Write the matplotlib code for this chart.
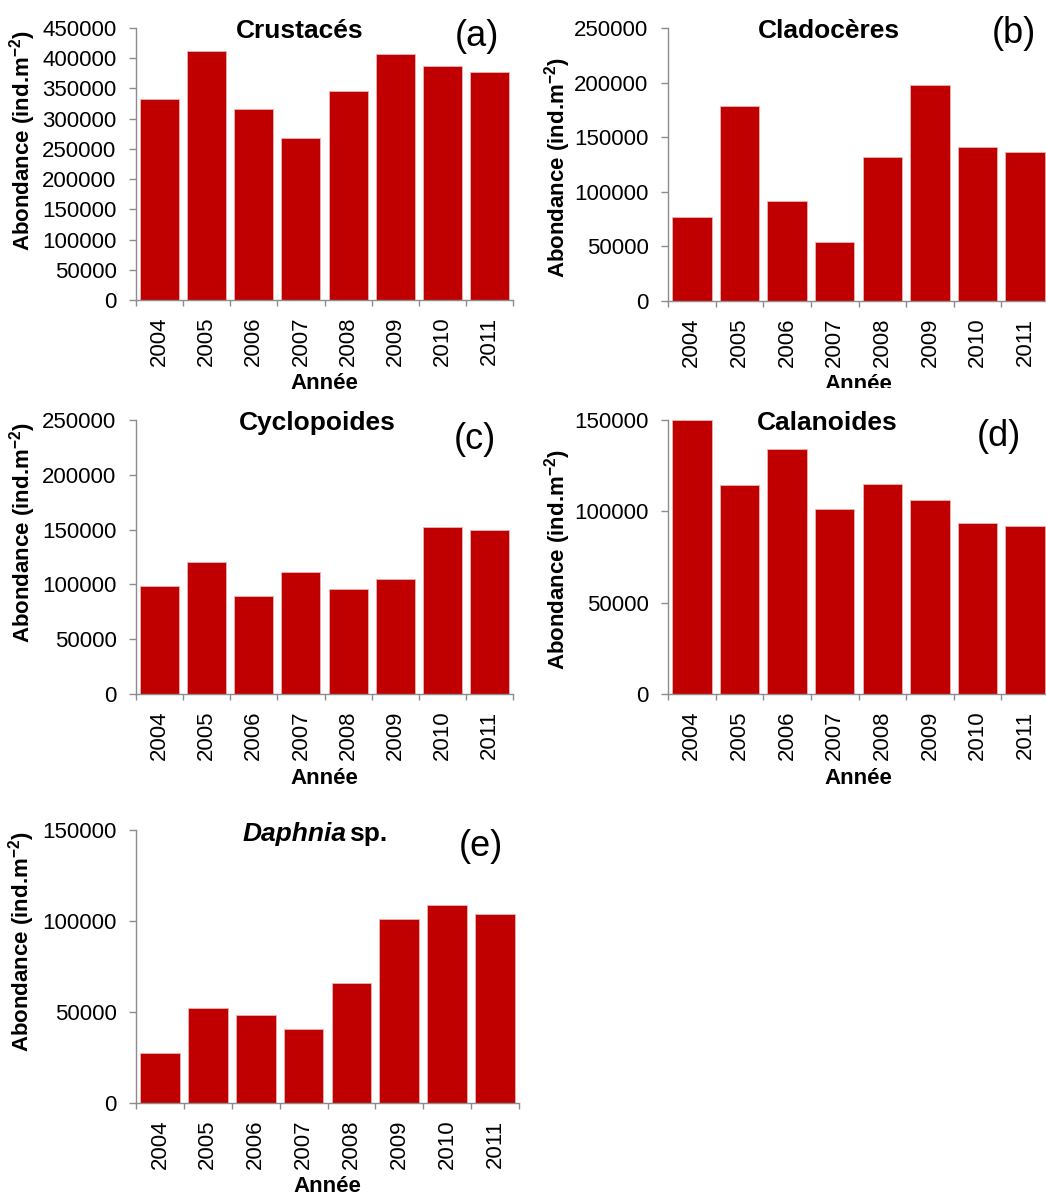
import matplotlib
matplotlib.use('Agg')
import matplotlib.pyplot as plt
from matplotlib.patches import Rectangle
import numpy as np

# Data
years = ['2004', '2005', '2006', '2007', '2008', '2009', '2010', '2011']
crustaces = [332000, 412000, 315500, 267600, 345800, 407500, 386600, 377700]
cladoceres = [77300, 178200, 91400, 54100, 132300, 197400, 141200, 136000]
cyclopoides = [98400, 120300, 89600, 111200, 96000, 104800, 152200, 149800]
calanoides = [150000, 114300, 134300, 101300, 115200, 106100, 93700, 92200]
daphnia = [27700, 52300, 48400, 40700, 66000, 101200, 108900, 103600]

plt.rcParams['font.family'] = ['Liberation Sans', 'DejaVu Sans']
plt.rcParams['mathtext.fontset'] = 'custom'
plt.rcParams['mathtext.rm'] = 'Liberation Sans'
plt.rcParams['mathtext.bf'] = 'Liberation Sans:bold'

BAR = '#C00000'
EDGE = '#E8B4B4'
GREY = '#8C8C8C'
W, H = 1046, 1196

fig = plt.figure(figsize=(W / 100, H / 100), dpi=100)


def px_axes(left, top, right, bottom):
    return fig.add_axes([left / W, 1 - bottom / H, (right - left) / W, (bottom - top) / H])


# values, ymax, title, title x, tag, tag pos, ylabel pos, axes box in pixels
panels = [
    (crustaces, 450000, 'Crustacés', 0.435, '(a)', (0.904, 0.97), (-0.30, 0.588), (136, 28, 513, 300)),
    (cladoceres, 250000, 'Cladocères', 0.423, '(b)', (0.908, 0.98), (-0.289, 0.49), (668, 28, 1049, 301)),
    (cyclopoides, 250000, 'Cyclopoides', 0.48, '(c)', (0.90, 0.93), (-0.302, 0.588), (136, 420, 513, 694)),
    (calanoides, 150000, 'Calanoides', 0.417, '(d)', (0.869, 0.94), (-0.289, 0.49), (668, 420, 1049, 694)),
    (daphnia, 150000, None, None, '(e)', (0.90, 0.94), (-0.298, 0.59), (136, 830, 519, 1103)),
]

x = np.arange(len(years))
for vals, ymax, title, tx, tag, tagpos, ylpos, box in panels:
    ax = px_axes(*box)
    ax.bar(x, vals, width=0.83, color=BAR, edgecolor=EDGE, linewidth=0.6)
    ax.set_xlim(-0.5, len(years) - 0.5)
    ax.set_ylim(0, ymax)
    ax.set_yticks(np.arange(0, ymax + 1, 50000))
    ax.set_xticks(x)
    ax.set_xticklabels(years, rotation=90)
    ax.set_xticks(np.arange(-0.5, len(years), 1), minor=True)
    ax.tick_params(axis='x', which='major', length=0, pad=12, labelsize=16)
    ax.tick_params(axis='x', which='minor', length=4, width=1, color=GREY, direction='out')
    ax.tick_params(axis='y', length=5, width=1, color=GREY, pad=9, labelsize=16)
    for s in ['top', 'right']:
        ax.spines[s].set_visible(False)
    for s in ['left', 'bottom']:
        ax.spines[s].set_color(GREY)
        ax.spines[s].set_linewidth(1.0)

    if title is not None:
        ax.text(tx, 0.99, title, transform=ax.transAxes, ha='center', va='center',
                fontsize=19, fontweight='bold')
    else:
        ax.text(0.55, 0.985, 'Daphnia', transform=ax.transAxes, ha='right', va='center',
                fontsize=19, fontweight='bold', fontstyle='italic')
        ax.text(0.556, 0.985, 'sp.', transform=ax.transAxes, ha='left', va='center',
                fontsize=19, fontweight='bold')
    ax.text(tagpos[0], tagpos[1], tag, transform=ax.transAxes, ha='center', va='center',
            fontsize=26)
    ax.text(ylpos[0], ylpos[1], r'Abondance (ind.m$^{\mathbf{-2}}$)', transform=ax.transAxes,
            rotation=90, ha='center', va='center', fontsize=16, fontweight='bold')
    ax.text(0.5, -0.307, 'Année', transform=ax.transAxes, ha='center', va='center',
            fontsize=16, fontweight='bold')

# the (b) x-label is cut off in the original layout
fig.patches.append(Rectangle((520 / W, 1 - 400 / H), (W - 520) / W, 12 / H,
                             transform=fig.transFigure, facecolor='white',
                             edgecolor='none', zorder=10))

fig.savefig('out.png', dpi=100)
